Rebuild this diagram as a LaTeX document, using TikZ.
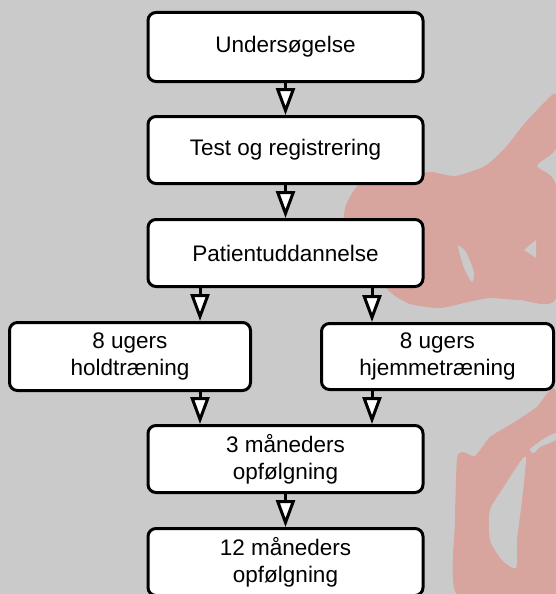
\documentclass[tikz,border=0pt]{standalone}
\usepackage{fontspec}
\setmainfont{Liberation Sans}
\usetikzlibrary{arrows.meta}
\definecolor{bg}{RGB}{202,202,202}
\definecolor{wm}{RGB}{216,164,158}
\begin{document}
\begin{tikzpicture}[x=1pt,y=-1pt,
  box/.style={draw=black, line width=3pt, rounded corners=8pt, fill=white,
    align=center, font=\fontsize{22.5}{27}\selectfont, inner sep=0pt},
  wide/.style={minimum width=275pt, minimum height=67pt},
  arr/.style={line width=3pt, line join=miter,
    -{Triangle[width=19pt,length=27pt,fill=white]}}]
\fill[bg] (0,0) rectangle (556,594);
\useasboundingbox (0,0) rectangle (556,594);
% watermark
\fill[wm] plot[smooth cycle, tension=0.4] coordinates {
  (343,232) (346,205) (362,182) (400,178) (430,172) (455,176) (485,166)
  (505,148) (525,123) (545,102) (556,95) (556,148) (537,166) (556,186)
  (556,298) (520,300) (490,298) (468,302) (440,308) (410,304) (390,292)
  (370,268) (352,250)};
\fill[bg] plot[smooth cycle, tension=0.4] coordinates {
  (458,246) (466,252) (474,272) (472,282) (464,268)};
\fill[bg] (524,250) -- (536,240) -- (536,258) -- cycle;
\fill[wm] plot[smooth cycle, tension=0.3] coordinates {
  (457,594) (455,520) (457,458) (463,452) (475,456) (490,437) (513,423)
  (537,407) (556,393) (556,594)};
\fill[bg] plot[smooth cycle, tension=0.4] coordinates {
  (530,449) (545,438) (556,433) (556,440) (540,447) (534,453)};
\fill[bg] plot[smooth cycle, tension=0.4] coordinates {
  (490,510) (505,485) (520,462) (526,458) (522,500) (517,540) (516,568)
  (502,560) (490,540)};
% boxes
\node[box, wide, minimum height=69pt] (b1) at (285.5,47) {Undersøgelse};
\node[box, wide] (b2) at (285.5,150) {Test og registrering};
\node[box, wide] (b3) at (285.5,253) {Patientuddannelse};
\node[box, minimum width=241pt, minimum height=68pt] (bl) at (130,356.5) {8 ugers\\holdtræning};
\node[box, minimum width=232pt, minimum height=66pt] (br) at (437.5,356.5) {8 ugers\\hjemmetræning};
\node[box, wide] (b4) at (285.5,459) {3 måneders\\opfølgning};
\node[box, wide] (b5) at (285.5,562) {12 måneders\\opfølgning};
\coordinate (xl) at (200,0);
\coordinate (xr) at (372,0);
% arrows
\draw[arr] (b1) -- (b2);
\draw[arr] (b2) -- (b3);
\draw[arr] (b3.south -| xl) -- (bl.north -| xl);
\draw[arr] (b3.south -| xr) -- (br.north -| xr);
\draw[arr] (bl.south -| xl) -- (b4.north -| xl);
\draw[arr] (br.south -| xr) -- (b4.north -| xr);
\draw[arr] (b4) -- (b5);
\end{tikzpicture}
\end{document}
